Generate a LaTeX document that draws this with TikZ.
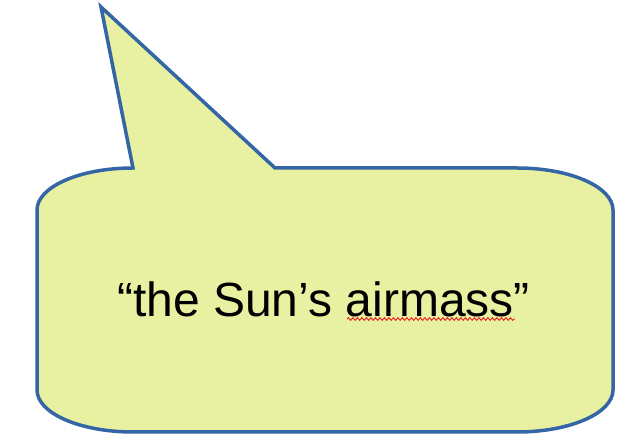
\documentclass[tikz,border=0pt]{standalone}
\usepackage{fontspec}
\setmainfont{Liberation Sans}
\usetikzlibrary{decorations.pathmorphing}
\definecolor{calloutfill}{RGB}{232,241,161}
\definecolor{calloutline}{RGB}{52,101,164}
\definecolor{spellred}{RGB}{230,30,30}
\tikzset{
  callout/.style={draw=calloutline, fill=calloutfill, line width=3.5pt, line join=miter},
  bigtext/.style={font=\fontsize{48}{58}\selectfont, inner sep=0pt},
  squiggle/.style={draw=spellred, line width=0.9pt, decorate, decoration={snake, amplitude=1.3pt, segment length=4.5pt}}
}
\begin{document}
\begin{tikzpicture}[x=1pt,y=1pt]
\useasboundingbox (0,0) rectangle (638,446);
\path[callout]
  (37,236) arc[start angle=180, end angle=90, x radius=96, y radius=42]
  -- (101,439) -- (275,278)
  -- (517,278) arc[start angle=90, end angle=0, x radius=96, y radius=42]
  -- (613,56) arc[start angle=0, end angle=-90, x radius=96, y radius=42]
  -- (133,14) arc[start angle=-90, end angle=-180, x radius=96, y radius=42]
  -- cycle;
\node[bigtext, anchor=base] (label) at (323.5,129) {“the Sun’s airmass”};
\coordinate (sqa) at (347,127);
\coordinate (sqb) at (515,127);
\draw[squiggle] (sqa) -- (sqb);
\end{tikzpicture}
\end{document}
